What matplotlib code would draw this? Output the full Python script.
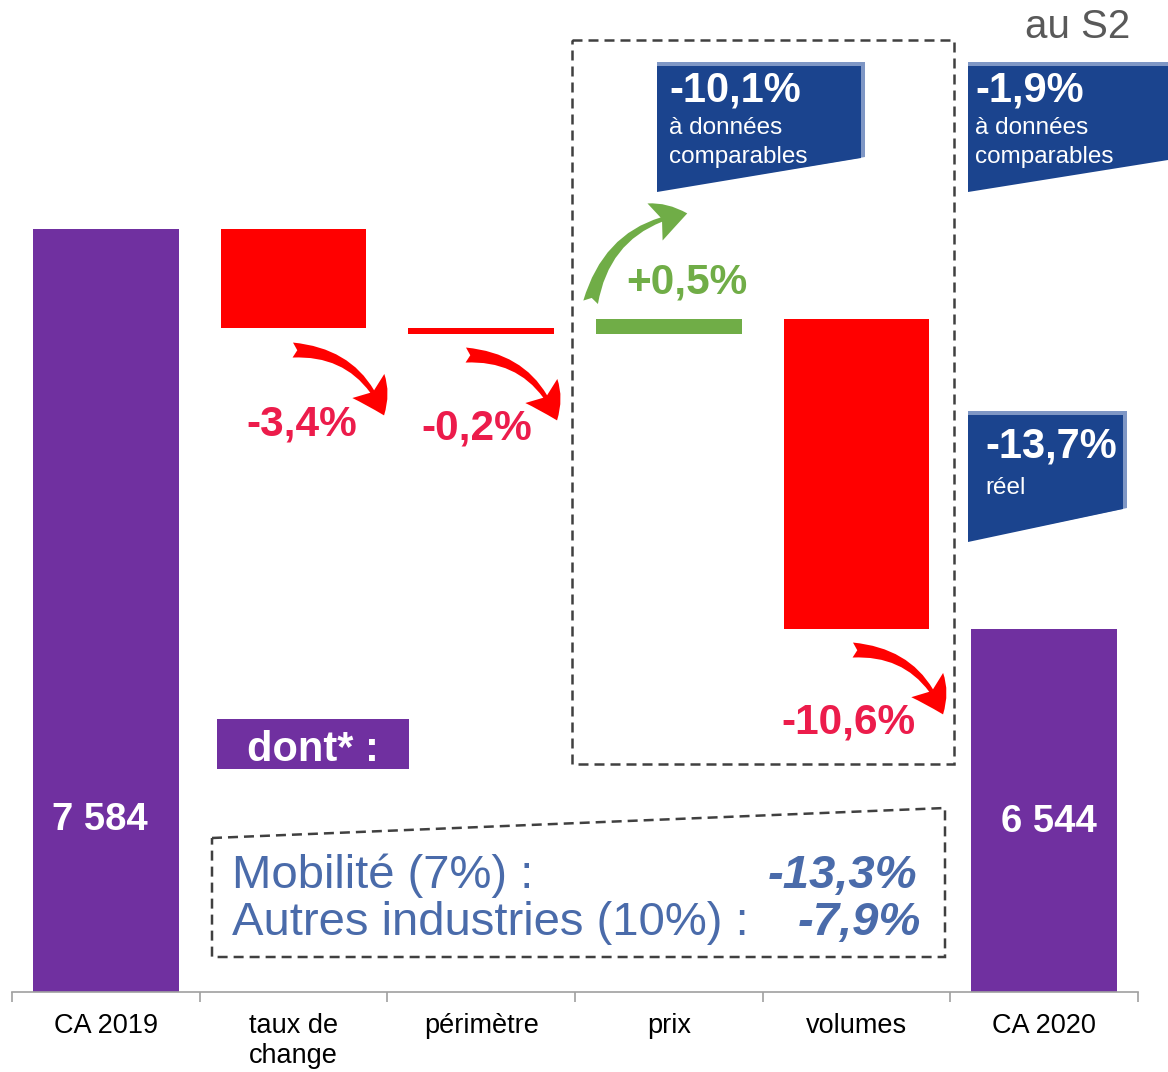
import matplotlib
matplotlib.use("Agg")
import matplotlib.pyplot as plt
from matplotlib.patches import Polygon, Rectangle, FancyArrowPatch, ArrowStyle

plt.rcParams['font.family'] = ['Liberation Sans', 'DejaVu Sans']

# data
categories = ['CA 2019', 'taux de\nchange', 'périmètre', 'prix', 'volumes', 'CA 2020']
ca_2019 = 7584
ca_2020 = 6544
deltas = [-258, -15, 38, -805]          # taux de change, périmètre, prix, volumes
delta_labels = ['-3,4%', '-0,2%', '+0,5%', '-10,6%']
total_labels = ['7 584', '6 544']
y_base = 5600

PURPLE = '#7030A0'
RED = '#FF0000'
RED_TXT = '#EC1C4B'
GREEN = '#70AD47'
BLUE = '#1B448E'
BLUE_LIGHT = '#7F97C5'
TXT_BLUE = '#4A6BAA'
DASH = '#404040'

fig = plt.figure(figsize=(11.68, 10.72), dpi=100)
ax = fig.add_axes([12 / 1168, 1 - 992 / 1072, 1126 / 1168, 992 / 1072])

w = 0.775
# totals
ax.bar(0, ca_2019 - y_base, bottom=y_base, width=w, color=PURPLE)
ax.bar(5, ca_2020 - y_base, bottom=y_base, width=w, color=PURPLE)
# steps
level = ca_2019
for i, d in enumerate(deltas):
    col = GREEN if d > 0 else RED
    ax.bar(i + 1, abs(d), bottom=min(level, level + d), width=w, color=col)
    level += d

ax.set_xlim(-0.5, 5.5)
ax.set_ylim(y_base, y_base + 992 / 0.3846)
for s in ['top', 'right', 'left']:
    ax.spines[s].set_visible(False)
ax.spines['bottom'].set_color('#A0A0A0')
ax.spines['bottom'].set_linewidth(1.2)
ax.set_yticks([])
ax.set_xticks([i - 0.5 for i in range(7)])
ax.set_xticklabels([])
ax.tick_params(axis='x', which='major', length=7, color='#A0A0A0', width=1.2)
ax.set_xticks(range(6), minor=True)
ax.set_xticklabels(categories, minor=True, fontsize=19.5, linespacing=1.2, va='top')
ax.tick_params(axis='x', which='minor', length=0, pad=15)

# overlay in pixel units for annotations
ov = fig.add_axes([0, 0, 1, 1])
ov.set_xlim(0, 1168)
ov.set_ylim(1072, 0)
ov.axis('off')

# dashed boxes
ov.add_patch(Rectangle((572, 40), 382, 724, fill=False, ec=DASH, lw=1.8,
                       ls=(0, (4, 2.4))))
ov.add_patch(Polygon([(212, 838), (945, 808), (945, 957), (212, 957)], closed=True,
                     fill=False, ec=DASH, lw=1.8, ls=(0, (4, 2.4))))

# blue callouts
boxes = [
    ([(657, 62), (865, 62), (865, 157), (657, 191)],
     [(657, 66), (861, 66), (861, 158), (657, 192)]),
    ([(968, 62), (1168, 62), (1168, 159), (968, 191)],
     [(968, 66), (1168, 66), (1168, 160), (968, 192)]),
    ([(968, 411), (1127, 411), (1127, 508), (968, 541)],
     [(968, 415), (1123, 415), (1123, 509), (968, 542)]),
]
for light, dark in boxes:
    ov.add_patch(Polygon(light, closed=True, fc=BLUE_LIGHT, ec='none'))
    ov.add_patch(Polygon(dark, closed=True, fc=BLUE, ec='none'))

ov.text(669, 101, '-10,1%', color='white', fontsize=30, fontweight='bold', va='baseline')
ov.text(669, 134, 'à données', color='white', fontsize=17.5, va='baseline')
ov.text(669, 163, 'comparables', color='white', fontsize=17.5, va='baseline')
ov.text(975, 101, '-1,9%', color='white', fontsize=30, fontweight='bold', va='baseline')
ov.text(975, 134, 'à données', color='white', fontsize=17.5, va='baseline')
ov.text(975, 163, 'comparables', color='white', fontsize=17.5, va='baseline')
ov.text(985, 458, '-13,7%', color='white', fontsize=30, fontweight='bold', va='baseline')
ov.text(985, 494, 'réel', color='white', fontsize=17.5, va='baseline')

ov.text(1130, 38, 'au S2', color='#595959', fontsize=29, ha='right', va='baseline')

# step labels and arrows
label_pos = [(302, 436), (477, 440), (687, 294), (848, 733)]
for (x, y), lab, d in zip(label_pos, delta_labels, deltas):
    ov.text(x, y, lab, color=GREEN if d > 0 else RED_TXT, fontsize=30.5,
            fontweight='bold', ha='center', va='baseline')

style = ArrowStyle.Fancy(head_length=1.0, head_width=1.2, tail_width=0.45)
arrows = [((290, 350), (385, 418), RED), ((463, 355), (558, 423), RED),
          ((850, 650), (944, 717), RED), ((590, 305), (690, 213), GREEN)]
for p0, p1, col in arrows:
    ov.add_patch(FancyArrowPatch(p0, p1, arrowstyle=style, mutation_scale=24,
                                 connectionstyle='arc3,rad=-0.35', color=col, lw=0))

# totals labels
ov.text(100, 830, total_labels[0], color='white', fontsize=27.5, fontweight='bold',
        ha='center', va='baseline')
ov.text(1049, 832, total_labels[1], color='white', fontsize=27.5, fontweight='bold',
        ha='center', va='baseline')

# dont* box
ov.add_patch(Rectangle((217, 719), 192, 50, fc=PURPLE, ec='none'))
ov.text(313, 761, 'dont* :', color='white', fontsize=30, fontweight='bold',
        ha='center', va='baseline')

ov.text(232, 888, 'Mobilité (7%) :', color=TXT_BLUE, fontsize=34, va='baseline')
ov.text(917, 888, '-13,3%', color=TXT_BLUE, fontsize=34, fontweight='bold',
        fontstyle='italic', ha='right', va='baseline')
ov.text(232, 935, 'Autres industries (10%) :', color=TXT_BLUE, fontsize=34, va='baseline')
ov.text(921, 935, '-7,9%', color=TXT_BLUE, fontsize=34, fontweight='bold',
        fontstyle='italic', ha='right', va='baseline')

fig.savefig('out.png', dpi=100)
